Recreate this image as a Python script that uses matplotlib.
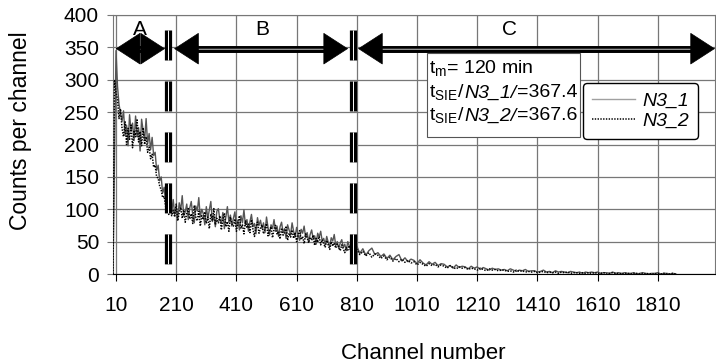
import matplotlib
matplotlib.use("Agg")
import matplotlib.pyplot as plt
from matplotlib.patches import Rectangle
import numpy as np

plt.rcParams['font.family'] = ['Liberation Sans', 'DejaVu Sans']
plt.rcParams['mathtext.fontset'] = 'custom'
plt.rcParams['mathtext.rm'] = 'Liberation Sans'
plt.rcParams['mathtext.it'] = 'Liberation Sans:italic'
plt.rcParams['lines.scale_dashes'] = False

# channel numbers (every 5th channel up to 800, every 10th after)
channels = np.concatenate([np.arange(0, 800, 5), np.arange(800, 1880, 10)])

n3_1 = [0, 180, 345, 290, 262, 248, 236, 252, 214, 230,
        198, 246, 221, 233, 206, 244, 212, 226, 190, 239,
        222, 207, 240, 201, 217, 192, 211, 183, 188, 160,
        168, 144, 150, 125, 134, 109, 118, 98, 114, 94,
        # 200 ..
        115, 92, 104, 86, 110, 99, 121, 90, 96, 108,
        84, 102, 112, 91, 79, 105, 97, 118, 88, 100,
        93, 76, 104, 86, 99, 112, 81, 90, 73, 97,
        101, 84, 78, 95, 70, 88, 104, 80, 91, 74,
        86, 96, 72, 83, 68, 90, 79, 99, 75, 84,
        66, 81, 92, 73, 78, 62, 87, 75, 83, 70,
        79, 64, 88, 72, 60, 76, 70, 84, 66, 74,
        58, 73, 80, 64, 70, 55, 76, 68, 61, 79,
        66, 57, 72, 60, 52, 69, 63, 74, 56, 64,
        50, 61, 68, 54, 59, 46, 63, 57, 66, 51,
        55, 45, 58, 49, 42, 56, 51, 61, 44, 50,
        39, 48, 53, 41, 46, 36, 50, 43, 38, 47,
        # 800 ..
        37, 43, 32, 39, 29, 36, 40, 30, 33, 27,
        31, 24, 29, 22, 27, 30, 20, 25, 19, 23,
        21, 16, 22, 17, 14, 19, 15, 18, 13, 16,
        15, 11, 13, 9, 14, 10, 12, 11, 8, 12,
        9, 11, 7, 10, 8, 6, 9, 7, 8, 6,
        7, 5, 8, 6, 4, 6, 5, 7, 4, 5,
        5, 3, 4, 6, 3, 4, 2, 5, 3, 4,
        3, 2, 4, 3, 2, 3, 1, 3, 2, 3,
        2, 3, 1, 2, 2, 1, 3, 1, 2, 1,
        2, 1, 1, 2, 0, 1, 2, 1, 0, 1,
        1, 2, 0, 1, 1, 0, 1, 0]

n3_2 = [0, 300, 280, 270, 240, 255, 225, 212, 235, 200,
        225, 208, 230, 195, 222, 212, 238, 204, 220, 198,
        226, 200, 212, 188, 196, 178, 185, 165, 168, 150,
        148, 136, 130, 118, 120, 104, 108, 92, 100, 90,
        # 200 ..
        98, 88, 108, 82, 95, 103, 86, 99, 80, 94,
        101, 85, 93, 78, 106, 88, 82, 97, 74, 90,
        84, 96, 78, 88, 70, 93, 82, 101, 76, 86,
        79, 90, 68, 84, 94, 73, 81, 66, 88, 77,
        74, 85, 66, 79, 90, 70, 76, 62, 82, 71,
        77, 64, 84, 69, 58, 74, 80, 63, 71, 76,
        62, 70, 78, 59, 67, 73, 56, 69, 75, 61,
        66, 54, 71, 60, 64, 74, 52, 63, 57, 68,
        55, 64, 50, 61, 67, 53, 58, 47, 62, 56,
        48, 57, 52, 60, 44, 55, 49, 58, 45, 53,
        47, 41, 52, 45, 38, 50, 43, 48, 40, 46,
        42, 36, 45, 39, 33, 41, 37, 44, 34, 39,
        # 800 ..
        34, 38, 30, 35, 28, 33, 26, 31, 29, 24,
        28, 22, 26, 20, 24, 19, 23, 18, 21, 17,
        19, 14, 18, 15, 12, 16, 13, 15, 11, 14,
        12, 9, 13, 10, 8, 11, 9, 10, 7, 9,
        8, 6, 9, 7, 5, 8, 6, 7, 5, 6,
        6, 4, 5, 3, 6, 4, 5, 3, 4, 3,
        4, 2, 3, 4, 2, 3, 2, 3, 1, 3,
        2, 3, 1, 2, 2, 1, 2, 1, 2, 1,
        2, 1, 1, 2, 0, 1, 2, 1, 1, 0,
        1, 1, 0, 1, 1, 0, 1, 0, 1, 0,
        0, 1, 0, 1, 0, 0, 1, 0]

xtick_pos = [10, 210, 410, 610, 810, 1010, 1210, 1410, 1610, 1810]
region_bounds = [183, 796]
regions = [('A', 9, 173, 90), ('B', 203, 781, 495), ('C', 814, 2000, 1316)]

fig = plt.figure(figsize=(7.16, 3.64), dpi=100)
ax = fig.add_axes([113 / 716, 1 - 274 / 364, 602 / 716, 259 / 364])

line1, = ax.plot(channels, n3_1, color='#555555', lw=1.0, label='N3_1', zorder=3)
line2, = ax.plot(channels, n3_2, color='black', lw=1.1, ls=(0, (1, 1)),
                 label='N3_2', zorder=4)

ax.set_xlim(0, 2000)
ax.set_ylim(0, 400)
ax.set_xticks(xtick_pos)
ax.set_yticks(range(0, 401, 50))
ax.grid(True, color='#777777', lw=0.9, zorder=0)
ax.set_axisbelow(True)
for s in ['top', 'right', 'left']:
    ax.spines[s].set_color('#777777')
ax.spines['bottom'].set_color('black')
ax.tick_params(axis='x', labelsize=15, length=5, pad=11, color='black')
ax.tick_params(axis='y', labelsize=15, length=4, pad=6, color='#777777')

ax.set_xlabel('Channel number', fontsize=16)
ax.set_ylabel('Counts per channel', fontsize=16.5)
ax.xaxis.set_label_coords(0.515, -0.266)
ax.yaxis.set_label_coords(-0.135, 0.552)

# region separators
for b in region_bounds:
    ax.plot([b, b], [377, 15], color='black', lw=5.2, dashes=(21.6, 15.1),
            solid_capstyle='butt', dash_capstyle='butt', zorder=5)
    ax.plot([b, b], [377, 15], color='white', lw=0.7, dashes=(21.6, 15.1),
            dash_capstyle='butt', zorder=6)

# region arrows
for name, x0, x1, xt in regions:
    ax.plot([x0 + 40, x1 - 40], [348, 348], color='black', lw=5.0,
            solid_capstyle='butt', zorder=6, clip_on=False)
    ax.plot([x0 + 40, x1 - 40], [348, 348], color='#999999', lw=1.4,
            solid_capstyle='butt', zorder=6, clip_on=False)
    ax.annotate('', xy=(x1, 348), xytext=(x0, 348),
                arrowprops=dict(arrowstyle='<|-|>,head_length=0.85,head_width=0.55',
                                mutation_scale=20, color='black', lw=0.5,
                                shrinkA=0, shrinkB=0),
                zorder=7, annotation_clip=False)
    ax.text(xt, 369, name, fontsize=15, ha='center', va='baseline', zorder=7)

# info box
ax.add_patch(Rectangle((0.5216, 0.529), 0.2541, 0.324, transform=ax.transAxes,
                       facecolor='white', edgecolor='#555555', lw=0.8, zorder=8))
info = [[(r't$_{\mathrm{m}}$= 120 min', 'normal')],
        [(r't$_{\mathrm{SIE}}$/', 'normal'), ('N3_1/', 'italic'), ('=367.4', 'normal')],
        [(r't$_{\mathrm{SIE}}$/', 'normal'), ('N3_2/', 'italic'), ('=367.6', 'normal')]]
renderer = fig.canvas.get_renderer()
for parts, yb in zip(info, [0.776, 0.682, 0.593]):
    xpos = 0.525
    for txt, style in parts:
        t = ax.text(xpos, yb, txt, transform=ax.transAxes, fontsize=14,
                    style=style, ha='left', va='baseline', zorder=9)
        bb = t.get_window_extent(renderer)
        xpos = ax.transAxes.inverted().transform((bb.x1, bb.y0))[0]

leg = ax.legend(loc='upper left', bbox_to_anchor=(0.781, 0.737), frameon=True,
                fancybox=True, edgecolor='black', framealpha=1,
                prop={'style': 'italic', 'size': 14}, handlelength=2.2,
                handletextpad=0.4, borderpad=0.45, labelspacing=0.15,
                borderaxespad=0)
leg.get_frame().set_linewidth(1.0)
leg.set_zorder(10)
leg.get_lines()[0].set_color('#a0a0a0')

fig.savefig('out.png', dpi=100)
